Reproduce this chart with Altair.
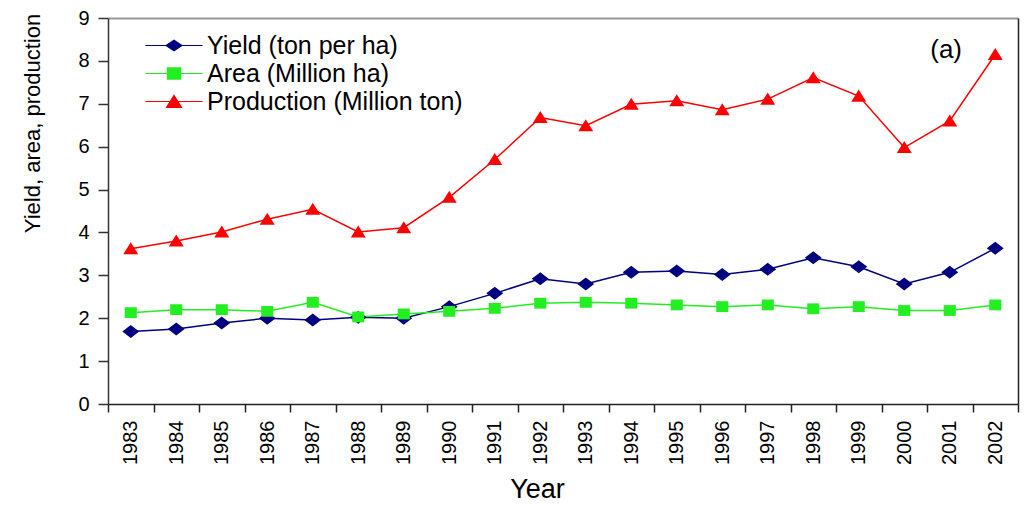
import altair as alt
import pandas as pd

years = list(range(1983, 2003))
yield_t = [1.69, 1.75, 1.89, 2.00, 1.96, 2.02, 2.00, 2.27, 2.58, 2.92,
           2.80, 3.07, 3.10, 3.02, 3.14, 3.41, 3.20, 2.80, 3.07, 3.63]
area = [2.13, 2.20, 2.20, 2.16, 2.37, 2.03, 2.10, 2.16, 2.23, 2.35,
        2.37, 2.35, 2.31, 2.27, 2.31, 2.22, 2.27, 2.18, 2.18, 2.31]
production = [3.62, 3.80, 4.01, 4.31, 4.54, 4.01, 4.11, 4.82, 5.70, 6.68,
              6.49, 6.99, 7.07, 6.86, 7.11, 7.61, 7.18, 5.98, 6.60, 8.15]

series_names = ["Yield (ton per ha)", "Area (Million ha)", "Production (Million ton)"]
colors = ["#000080", "#22ee22", "#ff0000"]
marker_paths = [
    "M0,-0.72L0.94,0L0,0.72L-0.94,0Z",
    "M-0.67,-0.6H0.67V0.6H-0.67Z",
    "M0,-0.72L0.83,0.62L-0.83,0.62Z",
]
legend_paths = [
    "M-3.17,-0.06H3.17V0.06H-3.17Z M0,-0.68L1,0L0,0.68L-1,0Z",
    "M-3.17,-0.06H3.17V0.06H-3.17Z M-0.8,-0.7H0.8V0.7H-0.8Z",
    "M-3.17,-0.06H3.17V0.06H-3.17Z M0,-0.8L0.95,0.72L-0.95,0.72Z",
]
y_ticks = list(range(0, 10))
x_tick_values = [yr - 0.5 for yr in years] + [years[-1] + 0.5]

rows = []
for name, vals in zip(series_names, [yield_t, area, production]):
    for yr, v in zip(years, vals):
        rows.append({"Year": yr, "Value": v, "Series": name})
df = pd.DataFrame(rows)

FONT = "Liberation Sans"
color_scale = alt.Scale(domain=series_names, range=colors)
x_scale = alt.Scale(domain=[1982.5, 2002.5], nice=False, zero=False)
y_scale = alt.Scale(domain=[0, 9], nice=False, zero=True)

x_axis_bottom = alt.Axis(
    orient="bottom", values=x_tick_values,
    labelExpr="datum.value < 2002 ? format(datum.value + 0.5, 'd') : ''",
    labelAngle=270, labelOffset=22.75, labelFlush=False, labelOverlap=False,
    labelPadding=8, labelFontSize=20, labelFont=FONT, labelColor="black",
    tickSize=8, tickWidth=1.5, tickColor="#222", domainColor="#222", domainWidth=1.5,
    grid=False, title="Year", titleFont=FONT, titleFontSize=27, titleFontWeight="normal",
    titleColor="black", titleX=429, titleY=93, titleBaseline="alphabetic", titleAlign="center",
)
y_axis_left = alt.Axis(
    orient="left", values=y_ticks, labelFontSize=20, labelFont=FONT, labelColor="black",
    labelPadding=9, tickSize=10, tickWidth=1.5, tickColor="#333", domainColor="#333",
    domainWidth=1.5, grid=False, title="Yield, area, production", titleFont=FONT,
    titleFontSize=22, titleFontWeight="normal", titleColor="black", titleAngle=270,
    titleX=-69, titleY=105, titleBaseline="alphabetic", titleAlign="center",
)
x_axis_top = alt.Axis(orient="top", labels=False, ticks=False, title=None,
                      domainColor="#999", domainWidth=2, grid=False)
y_axis_right = alt.Axis(orient="right", labels=False, ticks=False, title=None,
                        domainColor="#222", domainWidth=1.5, grid=False)

base = alt.Chart(df)

lines = base.mark_line(strokeWidth=1.5).encode(
    x=alt.X("Year:Q", scale=x_scale, axis=x_axis_bottom),
    y=alt.Y("Value:Q", scale=y_scale, axis=y_axis_left),
    color=alt.Color("Series:N", scale=color_scale, legend=None),
)

points = base.mark_point(filled=True, opacity=1, size=324, strokeWidth=0).encode(
    x=alt.X("Year:Q", scale=x_scale, axis=x_axis_top),
    y=alt.Y("Value:Q", scale=y_scale, axis=y_axis_right),
    color=alt.Color("Series:N", scale=color_scale, legend=None),
    shape=alt.Shape("Series:N", scale=alt.Scale(domain=series_names, range=marker_paths), legend=None),
)

leg = alt.Legend(
    orient="none", legendX=53.5, legendY=15, title=None, padding=0, rowPadding=2,
    labelFontSize=25, labelFont=FONT, labelColor="black", labelLimit=600, labelOffset=20.5,
    symbolSize=324, symbolStrokeWidth=0, symbolOpacity=1, direction="vertical",
)
legend_layer = base.transform_filter("false").mark_point(filled=True, opacity=1, size=324, strokeWidth=0).encode(
    color=alt.Color("Series:N", scale=color_scale, legend=leg),
    shape=alt.Shape("Series:N", scale=alt.Scale(domain=series_names, range=legend_paths), legend=leg),
)

chart = alt.layer(lines, points, legend_layer).resolve_scale(
    color="independent", shape="independent"
).resolve_axis(
    x="independent", y="independent"
).properties(
    width=910, height=386,
    autosize=alt.AutoSizeParams(type="none"),
    padding={"left": 100, "top": 10, "right": 3, "bottom": 100},
    title=alt.TitleParams("(a)", anchor="end", orient="top", frame="group", offset=0,
                          dx=-56, dy=76, fontSize=26, font=FONT, fontWeight="normal",
                          color="black", baseline="alphabetic"),
).configure_view(stroke=None).configure(background="white")

chart.save("out.html", embed_options={"renderer": "svg", "actions": False})
